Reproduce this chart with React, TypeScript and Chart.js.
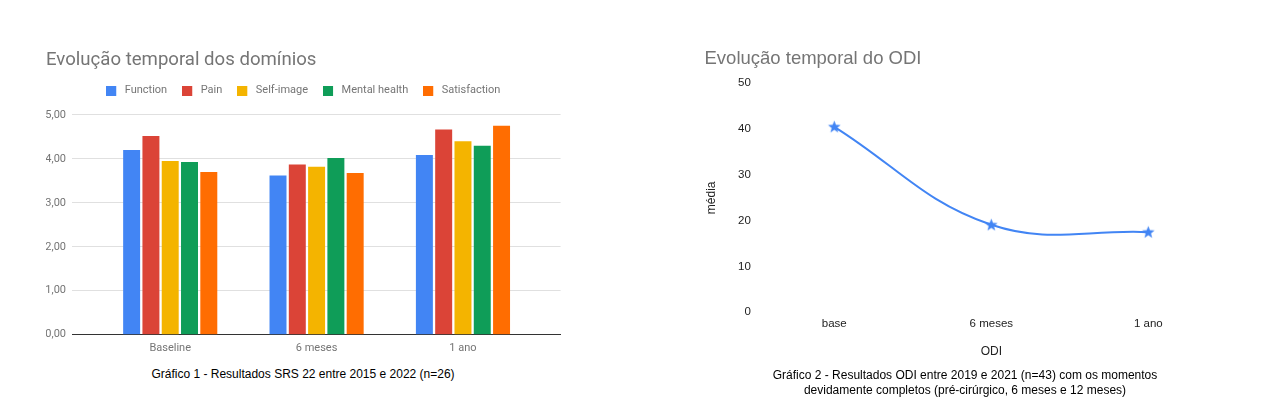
import React, { useEffect, useRef } from "react";
import { Chart, registerables } from "chart.js";

Chart.register(...registerables);

// ---------- Chart 1 data (SRS 22) ----------
const barCategories = ["Baseline", "6 meses", "1 ano"];
const seriesNames = ["Function", "Pain", "Self-image", "Mental health", "Satisfaction"];
const functionValues = [4.2, 3.62, 4.09];
const painValues = [4.52, 3.87, 4.67];
const selfImageValues = [3.95, 3.82, 4.4];
const mentalHealthValues = [3.93, 4.02, 4.3];
const satisfactionValues = [3.7, 3.68, 4.75];
const barTicks = [0, 1, 2, 3, 4, 5];
const barColors = ["#4285f4", "#db4437", "#f4b400", "#0f9d58", "#ff6d01"];

// ---------- Chart 2 data (ODI) ----------
const odiCategories = ["base", "6 meses", "1 ano"];
const odiValues = [40.5, 19.1, 17.5];
const odiTicks = [0, 10, 20, 30, 40, 50];

const caption1 = "Gráfico 1 - Resultados SRS 22 entre 2015 e 2022 (n=26)";
const caption2a = "Gráfico 2 - Resultados ODI entre 2019 e 2021 (n=43) com os momentos";
const caption2b = "devidamente completos (pré-cirúrgico, 6 meses e 12 meses)";

function legendSquare(color: string): HTMLCanvasElement {
  const c = document.createElement("canvas");
  c.width = 13;
  c.height = 10;
  const ctx = c.getContext("2d")!;
  ctx.fillStyle = color;
  ctx.fillRect(0, 0, 10, 10);
  return c;
}

function starImage(color: string): HTMLCanvasElement {
  const c = document.createElement("canvas");
  c.width = 15;
  c.height = 15;
  const ctx = c.getContext("2d")!;
  const cx = 7.5, cy = 7.8, R = 6.6, r = 2.8;
  ctx.beginPath();
  for (let i = 0; i < 10; i++) {
    const rad = i % 2 === 0 ? R : r;
    const a = -Math.PI / 2 + (i * Math.PI) / 5;
    const x = cx + rad * Math.cos(a);
    const y = cy + rad * Math.sin(a);
    if (i === 0) ctx.moveTo(x, y);
    else ctx.lineTo(x, y);
  }
  ctx.closePath();
  ctx.fillStyle = color;
  ctx.fill();
  return c;
}

export default function App() {
  const leftRef = useRef<HTMLCanvasElement | null>(null);
  const rightRef = useRef<HTMLCanvasElement | null>(null);

  useEffect(() => {
    const seriesValues = [functionValues, painValues, selfImageValues, mentalHealthValues, satisfactionValues];
    const legendImgs = barColors.map((c) => legendSquare(c));

    const left = new Chart(leftRef.current!, {
      type: "bar",
      data: {
        datasets: seriesNames.map((name, si) => ({
          label: name,
          data: seriesValues[si].map((v, i) => ({ x: i, y: v })),
          backgroundColor: barColors[si],
          borderWidth: 0,
          categoryPercentage: 0.659,
          barPercentage: 0.88,
        })),
      },
      options: {
        responsive: false,
        animation: false,
        devicePixelRatio: 1,
        events: [],
        layout: { padding: { left: 46, right: 79.4, top: 0, bottom: 0.3 } },
        plugins: {
          tooltip: { enabled: false },
          title: {
            display: true,
            text: "Evolução temporal dos domínios",
            align: "start",
            color: "#757575",
            font: { family: "Roboto", size: 18.6, weight: "normal", lineHeight: 0.8 },
            padding: { top: 53.2, bottom: 2.0 },
          },
          legend: {
            display: true,
            position: "top",
            align: "center",
            labels: {
              usePointStyle: true,
              pointStyleWidth: 13,
              padding: 15,
              color: "#757575",
              font: { family: "Roboto", size: 11 },
              generateLabels: (chart: any) =>
                Chart.defaults.plugins.legend.labels
                  .generateLabels(chart)
                  .map((l: any, i: number) => ({ ...l, pointStyle: legendImgs[i] })),
            },
          },
        },
        scales: {
          x: {
            type: "linear",
            min: -0.671,
            max: 2.667,
            offset: false,
            afterBuildTicks: (s: any) => {
              s.ticks = barCategories.map((_, i) => ({ value: i }));
            },
            afterFit: (s: any) => {
              s.height = 25;
            },
            ticks: {
              autoSkip: false,
              maxRotation: 0,
              padding: 7,
              color: "#757575",
              font: { family: "Roboto", size: 11 },
              callback: (v: any) => barCategories[Math.round(Number(v))] ?? "",
            },
            grid: { display: false, drawTicks: false, tickLength: 0 },
            border: { display: true, color: "#333333", width: 1 },
          },
          y: {
            type: "linear",
            min: 0,
            max: 5.2,
            afterBuildTicks: (s: any) => {
              s.ticks = barTicks.map((v) => ({ value: v }));
            },
            afterFit: (s: any) => {
              s.width = 26;
            },
            ticks: {
              padding: 6,
              color: "#757575",
              font: { family: "Roboto", size: 11 },
              callback: (v: any) => Number(v).toFixed(2).replace(".", ","),
            },
            grid: { color: "#e0e0e0", drawTicks: false, tickLength: 0, lineWidth: 1 },
            border: { display: false },
          },
        },
      },
    } as any);

    const star = starImage("#4285f4");
    const right = new Chart(rightRef.current!, {
      type: "line",
      data: {
        labels: odiCategories,
        datasets: [
          {
            label: "ODI",
            data: odiValues,
            borderColor: "#4285f4",
            backgroundColor: "#4285f4",
            borderWidth: 2,
            tension: 0.4,
            fill: false,
            pointStyle: star,
            pointRadius: 6,
          },
        ],
      },
      options: {
        responsive: false,
        animation: false,
        devicePixelRatio: 1,
        events: [],
        layout: { padding: { left: 14.5, right: 23.2, top: 0, bottom: 7.7 } },
        plugins: {
          tooltip: { enabled: false },
          legend: { display: false },
          title: {
            display: true,
            text: "Evolução temporal do ODI",
            align: "start",
            color: "#757575",
            font: { family: "Liberation Sans", size: 18.5, weight: "normal", lineHeight: 1.2 },
            padding: { top: 48, bottom: 13.1 },
          },
        },
        scales: {
          x: {
            type: "category",
            offset: true,
            afterFit: (s: any) => {
              s.height = 50;
            },
            ticks: {
              padding: 4.8,
              color: "#222222",
              font: { family: "Liberation Sans", size: 11.5 },
            },
            grid: { display: false, drawTicks: false, tickLength: 0 },
            border: { display: false },
            title: {
              display: true,
              text: "ODI",
              color: "#222222",
              font: { family: "Liberation Sans", size: 12 },
              padding: { top: 0, bottom: 3.4 },
            },
          },
          y: {
            type: "linear",
            min: 0,
            max: 50,
            afterBuildTicks: (s: any) => {
              s.ticks = odiTicks.map((v) => ({ value: v }));
            },
            afterFit: (s: any) => {
              s.width = 51.3;
            },
            ticks: {
              padding: 5,
              color: "#222222",
              font: { family: "Liberation Sans", size: 11.5 },
            },
            grid: { display: false, drawTicks: false, tickLength: 0 },
            border: { display: false },
            title: {
              display: true,
              text: "média",
              color: "#222222",
              font: { family: "Liberation Sans", size: 12 },
              padding: 0,
            },
          },
        },
      },
    } as any);

    return () => {
      left.destroy();
      right.destroy();
    };
  }, []);

  const captionStyle: React.CSSProperties = {
    position: "absolute",
    fontFamily: "'Liberation Sans', Arial, sans-serif",
    fontSize: "12px",
    lineHeight: "15px",
    color: "#000",
    textAlign: "center",
    whiteSpace: "nowrap",
  };

  return (
    <div style={{ position: "absolute", left: 0, top: 0, width: 1280, height: 420, background: "#fff", overflow: "hidden" }}>
      <canvas ref={leftRef} width={640} height={360} style={{ position: "absolute", left: 0, top: 0 }} />
      <canvas ref={rightRef} width={560} height={370} style={{ position: "absolute", left: 690, top: 0 }} />
      <div style={{ ...captionStyle, left: 103, width: 400, top: 366.5 }}>{caption1}</div>
      <div style={{ ...captionStyle, left: 715, width: 500, top: 367.5 }}>
        {caption2a}
        <br />
        {caption2b}
      </div>
    </div>
  );
}
